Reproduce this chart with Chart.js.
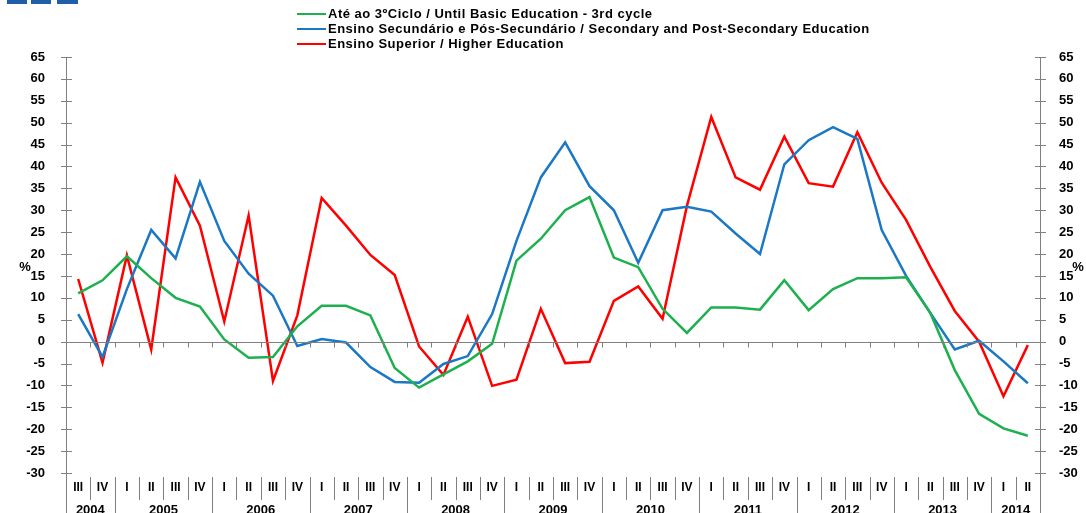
<!DOCTYPE html>
<html>
<head>
<meta charset="utf-8">
<script src="https://cdn.jsdelivr.net/npm/chart.js@4"></script>
<style>
    html, body { margin: 0; padding: 0; background: #fff; }
    #wrap { width: 1086px; height: 513px; }
</style>
</head>
<body>
<div id="wrap"><canvas id="chart" width="1086" height="513"></canvas></div>
<script>
const quarters = ['III', 'IV',
    'I', 'II', 'III', 'IV', 'I', 'II', 'III', 'IV', 'I', 'II', 'III', 'IV',
    'I', 'II', 'III', 'IV', 'I', 'II', 'III', 'IV', 'I', 'II', 'III', 'IV',
    'I', 'II', 'III', 'IV', 'I', 'II', 'III', 'IV', 'I', 'II', 'III', 'IV',
    'I', 'II'];
const years = ['2004', '2005', '2006', '2007', '2008', '2009', '2010', '2011', '2012', '2013', '2014'];
const quartersPerYear = [2, 4, 4, 4, 4, 4, 4, 4, 4, 4, 2];
const yTicks = [65, 60, 55, 50, 45, 40, 35, 30, 25, 20, 15, 10, 5, 0, -5, -10, -15, -20, -25, -30];

const basicEdu = [11, 14, 19.5, 14.5, 10, 8, 0.5, -3.7, -3.5, 3.5,
    8.2, 8.2, 6, -6, -10.5, -7.5, -4.5, -0.5, 18.5, 23.5,
    30, 33, 19.2, 17, 7.5, 2, 7.8, 7.8, 7.3, 14,
    7.2, 12, 14.5, 14.5, 14.7, 6.5, -6.5, -16.5, -19.8, -21.5];
const secondaryEdu = [6.3, -3.5, 12, 25.5, 19, 36.5, 23, 15.5, 10.5, -1,
    0.6, -0.2, -5.8, -9.2, -9.4, -5.1, -3.3, 6.3, 23, 37.5,
    45.5, 35.5, 30, 18, 30, 30.8, 29.7, 24.7, 20, 40.5,
    46, 49, 46.3, 25.5, 15, 6.5, -1.8, 0.2, -4.5, -9.5];
const higherEdu = [14.3, -4.8, 19.7, -1.8, 37.5, 26.5, 4.6, 28.8, -9, 6,
    32.8, 26.5, 19.8, 15.2, -1.1, -7.6, 5.7, -10.1, -8.7, 7.5,
    -4.9, -4.6, 9.3, 12.6, 5.2, 31, 51.3, 37.5, 34.7, 46.8,
    36.2, 35.4, 47.8, 36.3, 27.8, 17, 7, 0, -12.5, -0.8];

const fontFamily = '"Liberation Sans", Arial, sans-serif';
const axisGrey = '#808080';

const decorPlugin = {
    id: 'decor',
    afterDraw(chart) {
        const ctx = chart.ctx;
        const area = chart.chartArea;
        const x = chart.scales.x;
        const yl = chart.scales.y;
        const yr = chart.scales.y2;
        const step = x.getPixelForValue(1) - x.getPixelForValue(0);
        ctx.save();

        // logo blocks
        ctx.fillStyle = '#1f5fa8';
        [[7, 20], [31, 20], [57, 21]].forEach(([bx, bw]) => ctx.fillRect(bx, 0, bw, 4));

        // legend
        ctx.font = 'bold 13px ' + fontFamily;
        ctx.letterSpacing = '0.5px';
        ctx.textBaseline = 'middle';
        ctx.textAlign = 'left';
        chart.data.datasets.forEach((ds, i) => {
            const ly = 14 + i * 15;
            ctx.strokeStyle = ds.borderColor;
            ctx.lineWidth = 2;
            ctx.beginPath();
            ctx.moveTo(297, ly);
            ctx.lineTo(326, ly);
            ctx.stroke();
            ctx.fillStyle = '#000';
            ctx.fillText(ds.label, 328, ly);
        });
        ctx.letterSpacing = '0px';

        // axis lines with cross ticks
        ctx.strokeStyle = axisGrey;
        ctx.lineWidth = 1;
        [[area.left, yl], [area.right, yr]].forEach(([ax, sc]) => {
            ctx.beginPath();
            ctx.moveTo(Math.round(ax) + 0.5, area.top);
            ctx.lineTo(Math.round(ax) + 0.5, 513);
            yTicks.forEach(v => {
                const py = Math.round(sc.getPixelForValue(v)) + 0.5;
                ctx.moveTo(ax - 5, py);
                ctx.lineTo(ax + 6, py);
            });
            ctx.stroke();
        });

        // zero line with small ticks at category boundaries
        const zy = Math.round(yl.getPixelForValue(0)) + 0.5;
        ctx.beginPath();
        ctx.moveTo(area.left, zy);
        ctx.lineTo(area.right, zy);
        for (let i = 1; i < quarters.length; i += 1) {
            const bx = Math.round(x.getPixelForValue(i) - step / 2) + 0.5;
            ctx.moveTo(bx, zy);
            ctx.lineTo(bx, zy + 5);
        }
        ctx.stroke();

        // quarter labels and separators
        const labelTop = area.bottom + 4;
        ctx.fillStyle = '#000';
        ctx.textAlign = 'center';
        ctx.font = 'bold 12px ' + fontFamily;
        quarters.forEach((q, i) => {
            ctx.fillText(q, x.getPixelForValue(i), area.bottom + 15);
        });
        ctx.beginPath();
        let idx = 0;
        const yearStarts = new Set();
        quartersPerYear.forEach(n => { yearStarts.add(idx); idx += n; });
        for (let i = 1; i < quarters.length; i += 1) {
            const bx = Math.round(x.getPixelForValue(i) - step / 2) + 0.5;
            ctx.moveTo(bx, labelTop);
            ctx.lineTo(bx, yearStarts.has(i) ? 513 : area.bottom + 27);
        }
        ctx.stroke();

        // year labels
        idx = 0;
        ctx.font = 'bold 13px ' + fontFamily;
        years.forEach((yr, k) => {
            const n = quartersPerYear[k];
            const cx = (x.getPixelForValue(idx) + x.getPixelForValue(idx + n - 1)) / 2;
            ctx.fillText(yr, cx, area.bottom + 37);
            idx += n;
        });

        // % unit labels
        ctx.font = 'bold 13px ' + fontFamily;
        ctx.fillText('%', 25, yl.getPixelForValue(17));
        ctx.fillText('%', 1078, yl.getPixelForValue(17));
        ctx.restore();
    }
};

const tickOpts = {
    color: '#000',
    font: { family: fontFamily, size: 13, weight: 'bold' },
    autoSkip: false,
    callback: value => (yTicks.includes(value) ? String(value) : '')
};

new Chart(document.getElementById('chart'), {
    type: 'line',
    data: {
        labels: quarters,
        datasets: [
            {
                label: 'Até ao 3ºCiclo / Until Basic Education - 3rd cycle',
                data: basicEdu,
                borderColor: '#1db04e',
                borderWidth: 2.5
            },
            {
                label: 'Ensino Secundário e Pós-Secundário / Secondary and Post-Secondary Education',
                data: secondaryEdu,
                borderColor: '#1b78c4',
                borderWidth: 2.5
            },
            {
                label: 'Ensino Superior / Higher Education',
                data: higherEdu,
                borderColor: '#ff0000',
                borderWidth: 2.5
            }
        ]
    },
    options: {
        responsive: false,
        animation: false,
        layout: { padding: { top: 57, bottom: 40, left: 0, right: 0 } },
        elements: { point: { radius: 0 }, line: { tension: 0 } },
        plugins: { legend: { display: false }, tooltip: { enabled: false } },
        scales: {
            x: {
                display: false,
                offset: true
            },
            y: {
                position: 'left',
                min: -30,
                max: 65,
                afterFit: scale => { scale.width = 66; },
                ticks: { ...tickOpts, stepSize: 5, padding: 13 },
                grid: { display: false },
                border: { display: false }
            },
            y2: {
                position: 'right',
                min: -30,
                max: 65,
                afterFit: scale => { scale.width = 46; },
                ticks: { ...tickOpts, stepSize: 5, padding: 11 },
                grid: { display: false },
                border: { display: false }
            }
        }
    },
    plugins: [decorPlugin]
});
</script>
</body>
</html>
